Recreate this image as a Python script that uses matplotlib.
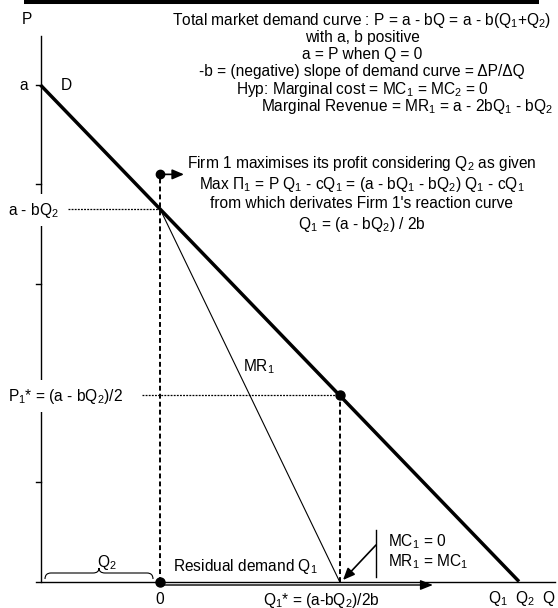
import numpy as np
import matplotlib.pyplot as plt
from matplotlib.path import Path
from matplotlib.patches import PathPatch

plt.rcParams['font.family'] = ['Liberation Sans', 'DejaVu Sans']
plt.rcParams['mathtext.fontset'] = 'custom'
plt.rcParams['mathtext.rm'] = 'Liberation Sans'
plt.rcParams['mathtext.it'] = 'Liberation Sans:italic'
plt.rcParams['mathtext.default'] = 'regular'

#----------------------------------------
# model values (Cournot, firm 1 best response)
a = 5.0
b = 0.5
Q2 = 2.5
p_ticks = [1, 2, 3, 4]
firm_mark_P = 4.1       # height of the "Firm 1" marker on the Q2 line
resid_arrow_end = 8.2   # where the residual demand arrow stops

Q_max = a / b
P_resid = a - b * Q2
Q1_star = (a - b * Q2) / (2 * b)
P1_star = (a - b * Q2) / 2

#----------------------------------------
# pixel layout of the drawing (origin and scale of the axes)
W, H = 558, 608
X0, SX = 40.5, 47.85
Y0, SY = 581.5, 99.3


def px(x, y):
    return (x - X0) / SX, (Y0 - y) / SY


fig = plt.figure(figsize=(W / 100, H / 100), dpi=100)
ax = fig.add_axes([0, 0, 1, 1])
ax.set_xlim(-X0 / SX, (W - X0) / SX)
ax.set_ylim(-(H - Y0) / SY, Y0 / SY)
ax.axis('off')

fs = 11.2

#----------------------------------------
# top black bar
bx0, by = px(24, 1.8)
bx1, _ = px(539, 1.8)
ax.plot([bx0, bx1], [by, by], color='black', lw=2.9, solid_capstyle='butt')

# axes
ax.plot([0, 0], [0, px(0, 36)[1]], color='black', lw=1.0)
ax.plot([px(36, 0)[0], px(555, 0)[0]], [0, 0], color='black', lw=1.0)
tick_l = px(36, 0)[0]
for t in p_ticks + [a]:
    ax.plot([tick_l, 0], [t, t], color='black', lw=1.0)

# demand curve
q = np.array([0, Q_max])
ax.plot(q, a - b * q, color='black', lw=2.5, solid_capstyle='butt', zorder=3)

# marginal revenue of firm 1 (reaches zero at Q2 + Q1*)
q_mr = np.array([Q2, Q2 + Q1_star])
ax.plot(q_mr, P_resid - 2 * b * (q_mr - Q2), color='black', lw=0.8, zorder=3)

# dashed verticals
ax.plot([Q2, Q2], [0, firm_mark_P], color='black', lw=1.4,
        linestyle=(0, (2.5, 1.6)))
ax.plot([Q2 + Q1_star] * 2, [0, P1_star], color='black', lw=1.4,
        linestyle=(0, (2.5, 1.6)))

# dotted horizontals
ax.plot([px(68, 0)[0], Q2], [P_resid, P_resid], color='black', lw=0.9,
        linestyle=(0, (1.5, 1)))
ax.plot([px(142, 0)[0], Q2 + Q1_star], [P1_star, P1_star], color='black',
        lw=0.9, linestyle=(0, (1.5, 1)))

# dots
ax.plot([Q2], [0], 'o', color='black', ms=6.5, zorder=5)
ax.plot([Q2 + Q1_star], [P1_star], 'o', color='black', ms=6.5, zorder=5)
ax.plot([Q2], [firm_mark_P], 'o', color='black', ms=6, zorder=5)

# firm 1 arrow
ax.annotate('', xy=(px(184, 0)[0], firm_mark_P), xytext=(Q2, firm_mark_P),
            arrowprops=dict(arrowstyle='-|>,head_length=0.7,head_width=0.3',
                            color='black', lw=1.2, shrinkA=0, shrinkB=0))

# residual demand double line arrow
ry = px(0, 585)[1]
ax.annotate('', xy=(resid_arrow_end, ry), xytext=(Q2, ry),
            arrowprops=dict(arrowstyle='-|>,head_length=0.75,head_width=0.3',
                            color='black', lw=1.0, shrinkA=0, shrinkB=0))

# MC / MR marker and arrow
mx = px(376, 0)[0]
ax.plot([mx, mx], [px(0, 530)[1], px(0, 577)[1]], color='black', lw=1.0)
ax.annotate('', xy=px(343, 580), xytext=px(376, 545),
            arrowprops=dict(arrowstyle='-|>,head_length=0.7,head_width=0.3',
                            color='black', lw=1.2, shrinkA=0, shrinkB=0))

# brace over Q2
xl, xr = px(45, 0)[0], px(153, 0)[0]
xc = (xl + xr) / 2
yb, ym, yt = px(0, 579)[1], px(0, 573)[1], px(0, 568)[1]
r = 6 / SX
verts = [(xl, yb), (xl, ym), (xl + r, ym), (xc - r, ym), (xc, ym), (xc, yt),
         (xc, ym), (xc + r, ym), (xr - r, ym), (xr, ym), (xr, yb)]
codes = [Path.MOVETO, Path.CURVE3, Path.CURVE3, Path.LINETO, Path.CURVE3,
         Path.CURVE3, Path.CURVE3, Path.CURVE3, Path.LINETO, Path.CURVE3,
         Path.CURVE3]
ax.add_patch(PathPatch(Path(verts, codes), facecolor='none', edgecolor='black',
                       lw=0.8))

#----------------------------------------
# labels
def txt(x, y, s, ha='center', box=False):
    kw = {}
    if box:
        kw['bbox'] = dict(facecolor='white', edgecolor='none', pad=4.5)
    ax.text(*px(x, y), s, ha=ha, va='center', fontsize=fs, zorder=6, **kw)


txt(27, 20, 'P')
txt(24, 85, 'a')
txt(66, 85, 'D')
txt(33, 210, 'a - bQ$_2$', box=True)
txt(65, 396, 'P$_1$* = (a - bQ$_2$)/2', box=True)
txt(259, 367, 'MR$_1$')
txt(107, 563, 'Q$_2$')
txt(173, 566, 'Residual demand Q$_1$', ha='left')
txt(160, 600, '0')
txt(321, 600, 'Q$_1$* = (a-bQ$_2$)/2b')
txt(388, 542, 'MC$_1$ = 0', ha='left')
txt(388, 562, 'MR$_1$ = MC$_1$', ha='left')
txt(498, 598, 'Q$_1$')
txt(525, 598, 'Q$_2$')
txt(548, 598, 'Q')

top_lines = [
    'Total market demand curve : P = a - bQ = a - b(Q$_1$+Q$_2$)',
    'with a, b positive',
    'a = P when Q = 0',
    '-b = (negative) slope of demand curve = ΔP/ΔQ',
    'Hyp: Marginal cost = MC$_1$ = MC$_2$ = 0',
]
for i, s in enumerate(top_lines):
    txt(362, 20 + 17.3 * i, s)
txt(553, 20 + 17.3 * 5, 'Marginal Revenue = MR$_1$ = a - 2bQ$_1$ - bQ$_2$',
    ha='right')

firm_lines = [
    "Firm 1 maximises its profit considering Q$_2$ as given",
    "Max Π$_1$ = P Q$_1$ - cQ$_1$ = (a - bQ$_1$ - bQ$_2$) Q$_1$ - cQ$_1$",
    "from which derivates Firm 1's reaction curve",
    "Q$_1$ = (a - bQ$_2$) / 2b",
]
for i, s in enumerate(firm_lines):
    txt(362, 164 + 20 * i, s)

plt.savefig('out.png', dpi=100)
